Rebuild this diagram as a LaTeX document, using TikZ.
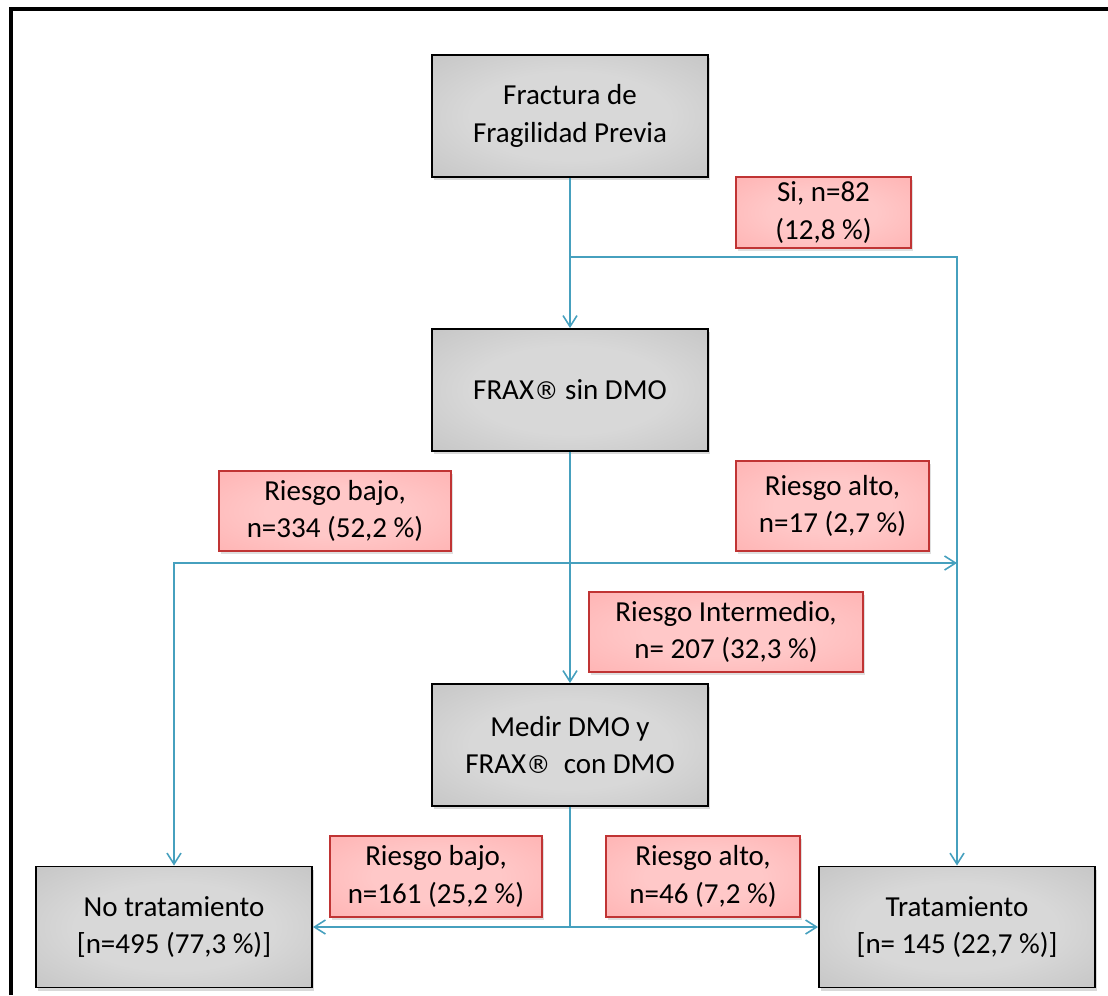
\documentclass[tikz,border=0pt]{standalone}
\usepackage{fontspec}
\setmainfont{Carlito}
\newfontfamily\simbolo{DejaVu Sans}
\usetikzlibrary{arrows.meta,shadows}

\definecolor{grisclaro}{RGB}{216,216,216}
\definecolor{grisoscuro}{RGB}{162,162,162}
\definecolor{rosaclaro}{RGB}{255,200,200}
\definecolor{rosaoscuro}{RGB}{255,146,146}
\definecolor{bordrojo}{RGB}{192,52,52}
\definecolor{azulflecha}{RGB}{70,160,190}

\pgfdeclareradialshading{sombragris}{\pgfpoint{0bp}{0bp}}{color(0bp)=(grisclaro); color(18bp)=(grisclaro); color(72bp)=(grisoscuro)}
\pgfdeclareradialshading{sombrarosa}{\pgfpoint{0bp}{0bp}}{color(0bp)=(rosaclaro); color(15bp)=(rosaclaro); color(72bp)=(rosaoscuro)}

\newcommand{\marca}{{\simbolo\fontsize{14}{21}\selectfont ®}}

\tikzset{
  caja/.style={draw=black, line width=1.1pt, shading=sombragris, align=center,
    minimum width=276*\px, minimum height=122*\px, inner sep=0pt,
    font=\fontsize{16.5}{21.5}\selectfont,
    drop shadow={shadow xshift=1.2pt, shadow yshift=-1.8pt, opacity=0.3}},
  etiqueta/.style={draw=bordrojo, line width=0.7pt, shading=sombrarosa, align=center,
    inner sep=0pt, font=\fontsize{16.5}{21.5}\selectfont,
    drop shadow={shadow xshift=1pt, shadow yshift=-1.5pt, opacity=0.25}},
  flecha/.style={draw=azulflecha, line width=0.9pt,
    -{Straight Barb[length=2.2mm,width=2.8mm]}},
  linea/.style={draw=azulflecha, line width=0.9pt},
}

\begin{document}
\begin{tikzpicture}[x=0.02cm,y=-0.02cm]
\def\px{0.02cm}
\useasboundingbox (0,0) rectangle (1108,995);
% Marco
\draw[line width=2pt] (11,995) -- (11,9) -- (1108,9);

% Cajas
\node[caja] (frac) at (570,116) {Fractura de\\Fragilidad Previa};
\node[caja] (frax) at (570,390) {FRAX\marca{} sin DMO};
\node[caja] (medir) at (570,745) {Medir DMO y\\FRAX\marca\ \ con DMO};
\node[caja, minimum height=121*\px] (notrat) at (174,927) {No tratamiento\\{[n=495 (77,3 \%)]}};
\node[caja, minimum height=121*\px] (trat) at (957,927) {Tratamiento\\{[n= 145 (22,7 \%)]}};

% Etiquetas
\node[etiqueta, minimum width=175*\px, minimum height=71*\px] (si) at (823.5,212.5) {Si, n=82\\(12,8 \%)};
\node[etiqueta, minimum width=232*\px, minimum height=80*\px] (bajo1) at (335,511) {Riesgo bajo,\\n=334 (52,2 \%)};
\node[etiqueta, minimum width=193*\px, minimum height=90*\px] (alto1) at (832.5,506) {Riesgo alto,\\n=17 (2,7 \%)};
\node[etiqueta, minimum width=274*\px, minimum height=80*\px] (inter) at (726,632) {Riesgo Intermedio,\\n= 207 (32,3 \%)};
\node[etiqueta, minimum width=212*\px, minimum height=81*\px] (bajo2) at (436,876.5) {Riesgo bajo,\\n=161 (25,2 \%)};
\node[etiqueta, minimum width=194*\px, minimum height=81*\px] (alto2) at (703,876.5) {Riesgo alto,\\n=46 (7,2 \%)};

% Conexiones
\coordinate (j1) at (570,257);
\coordinate (j2) at (570,563);
\coordinate (j3) at (570,927);
\draw[flecha] (frac.south) -- (frax.north);
\draw[flecha] (j1) -| (trat.north);
\draw[flecha] (frax.south) -- (medir.north);
\draw[flecha] (j2) -- (j2 -| trat.north);
\draw[flecha] (j2) -| (notrat.north);
\draw[linea] (medir.south) -- (j3);
\draw[flecha] (j3) -- (notrat.east);
\draw[flecha] (j3) -- (trat.west);

\end{tikzpicture}
\end{document}
